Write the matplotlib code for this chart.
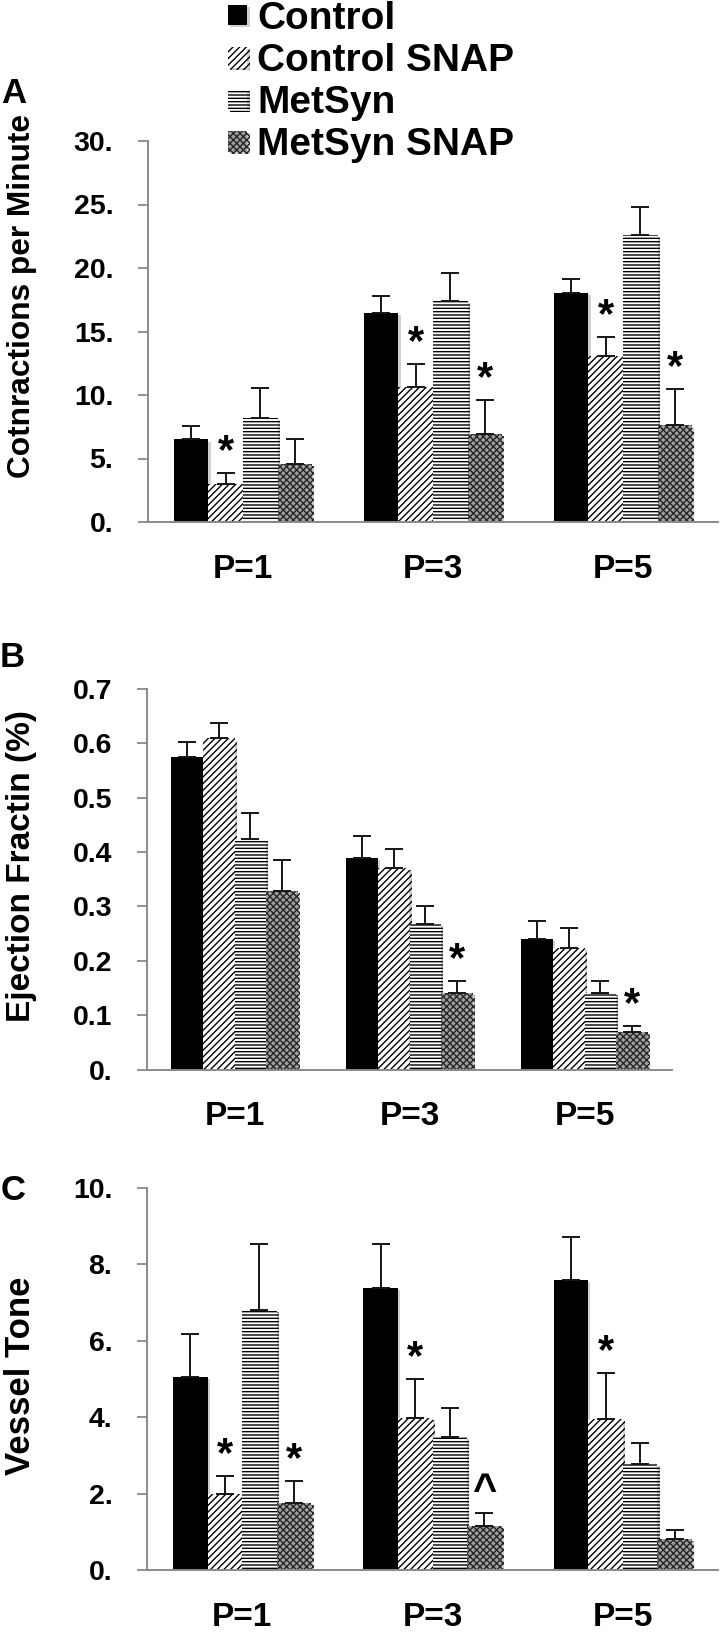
import matplotlib.pyplot as plt
import matplotlib.patheffects as pe
import numpy as np

plt.rcParams['font.family'] = ['Liberation Sans', 'DejaVu Sans']
plt.rcParams['font.weight'] = 'bold'
plt.rcParams['hatch.linewidth'] = 1.0

W, H = 720, 1634

groups = ['P=1', 'P=3', 'P=5']
series_names = ['Control', 'Control SNAP', 'MetSyn', 'MetSyn SNAP']

# Panel A - contractions per minute (one row per series, one column per P)
rate_means = [[6.5, 16.45, 18.0], [3.0, 10.6, 13.1], [8.2, 17.4, 22.6], [4.55, 6.9, 7.6]]
rate_errs = [[1.05, 1.35, 1.1], [0.85, 1.85, 1.45], [2.35, 2.2, 2.2], [1.95, 2.7, 2.85]]
rate_ticks = [0, 5, 10, 15, 20, 25, 30]
rate_ticklabels = ['0.', '5.', '10.', '15.', '20.', '25.', '30.']

# Panel B - ejection fraction
ef_means = [[0.574, 0.389, 0.24], [0.609, 0.370, 0.223], [0.424, 0.268, 0.141], [0.328, 0.141, 0.069]]
ef_errs = [[0.028, 0.04, 0.033], [0.028, 0.035, 0.037], [0.048, 0.032, 0.022], [0.057, 0.022, 0.011]]
ef_ticks = [0, 0.1, 0.2, 0.3, 0.4, 0.5, 0.6, 0.7]
ef_ticklabels = ['0.', '0.1', '0.2', '0.3', '0.4', '0.5', '0.6', '0.7']

# Panel C - vessel tone
tone_means = [[5.05, 7.38, 7.59], [1.99, 3.98, 3.95], [6.81, 3.48, 2.77], [1.75, 1.15, 0.81]]
tone_errs = [[1.13, 1.15, 1.13], [0.47, 1.02, 1.21], [1.72, 0.76, 0.55], [0.58, 0.34, 0.24]]
tone_ticks = [0, 2, 4, 6, 8, 10]
tone_ticklabels = ['0.', '2.', '4.', '6.', '8.', '10.']

# significance marks: (group, series, symbol)
rate_marks = [(0, 1, '*'), (1, 1, '*'), (1, 3, '*'), (2, 1, '*'), (2, 3, '*')]
ef_marks = [(1, 3, '*'), (2, 3, '*')]
tone_marks = [(0, 1, '*'), (0, 3, '*'), (1, 1, '*'), (1, 3, '^'), (2, 1, '*')]

bar_styles = [
    dict(facecolor='black', edgecolor='black'),
    dict(facecolor='white', edgecolor='black', hatch='/////'),
    dict(facecolor='white', edgecolor='black', hatch='-----'),
    dict(facecolor='#a0a0a0', edgecolor='#262626', hatch='xxxxx'),
]
BAR_W = 0.182
AXIS_GREY = '#8a8a8a'


def axes_rect(left, top, right, bottom):
    """pixel box -> figure fraction rect"""
    return [left / W, 1 - bottom / H, (right - left) / W, (bottom - top) / H]


def draw_panel(ax, means, errs, ticks, ticklabels, marks):
    x = np.arange(len(groups))
    shadow = [pe.SimplePatchShadow(offset=(1.5, -1.5), shadow_rgbFace='#777777', alpha=0.35), pe.Normal()]
    containers = []
    for i, name in enumerate(series_names):
        xs = x + (i - 1.5) * BAR_W
        bc = ax.bar(xs, means[i], BAR_W, linewidth=0, label=name, zorder=2, **bar_styles[i])
        for p in bc.patches:
            p.set_path_effects(shadow)
        ax.errorbar(xs, means[i], yerr=[np.zeros(len(groups)), errs[i]], fmt='none',
                    ecolor='#151515', elinewidth=1.4, capsize=6.5, capthick=1.4, zorder=3)
        containers.append(bc)
    for g, s, sym in marks:
        top = means[s][g] + errs[s][g]
        ax.annotate(sym, xy=(g + (s - 1.5) * BAR_W, top), xytext=(0, 7), textcoords='offset points',
                    ha='center', va='baseline', fontsize=30, fontweight='bold')
    ax.set_xlim(-0.5, len(groups) - 0.5)
    ax.set_ylim(ticks[0], ticks[-1])
    ax.set_yticks(ticks)
    ax.set_yticklabels(ticklabels)
    ax.set_xticks(x)
    ax.set_xticklabels(groups)
    ax.tick_params(axis='x', length=0, pad=23, labelsize=24)
    ax.tick_params(axis='y', length=7, width=1.3, color=AXIS_GREY, pad=18, labelsize=20.5)
    for side in ['top', 'right']:
        ax.spines[side].set_visible(False)
    for side in ['left', 'bottom']:
        ax.spines[side].set_color(AXIS_GREY)
        ax.spines[side].set_linewidth(1.4)
    return containers


fig = plt.figure(figsize=(W / 100, H / 100), dpi=100)
ax_a = fig.add_axes(axes_rect(148, 141, 718, 522))
ax_b = fig.add_axes(axes_rect(147, 689, 672, 1069.5))
ax_c = fig.add_axes(axes_rect(147, 1188, 718, 1570))

bars = draw_panel(ax_a, rate_means, rate_errs, rate_ticks, rate_ticklabels, rate_marks)
draw_panel(ax_b, ef_means, ef_errs, ef_ticks, ef_ticklabels, ef_marks)
draw_panel(ax_c, tone_means, tone_errs, tone_ticks, tone_ticklabels, tone_marks)

# y labels and panel letters
fig.text(22 / W, 1 - 296 / H, 'Cotnractions per Minute', rotation=90, ha='center', va='center', fontsize=22.8)
fig.text(22 / W, 1 - 866 / H, 'Ejection Fractin (%)', rotation=90, ha='center', va='center', fontsize=24)
fig.text(21 / W, 1 - 1376 / H, 'Vessel Tone', rotation=90, ha='center', va='center', fontsize=25)
fig.text(1 / W, 1 - 103 / H, 'A', ha='left', va='baseline', fontsize=25)
fig.text(0 / W, 1 - 667 / H, 'B', ha='left', va='baseline', fontsize=25)
fig.text(1 / W, 1 - 1200 / H, 'C', ha='left', va='baseline', fontsize=25)

fig.legend(handles=bars, labels=series_names, loc='upper left', bbox_to_anchor=(228 / W, 0.9995),
           frameon=False, fontsize=28, handlelength=0.5, handleheight=0.45, handletextpad=0.25,
           labelspacing=0.16, borderpad=0, borderaxespad=0)

fig.savefig('out.png', dpi=100)
